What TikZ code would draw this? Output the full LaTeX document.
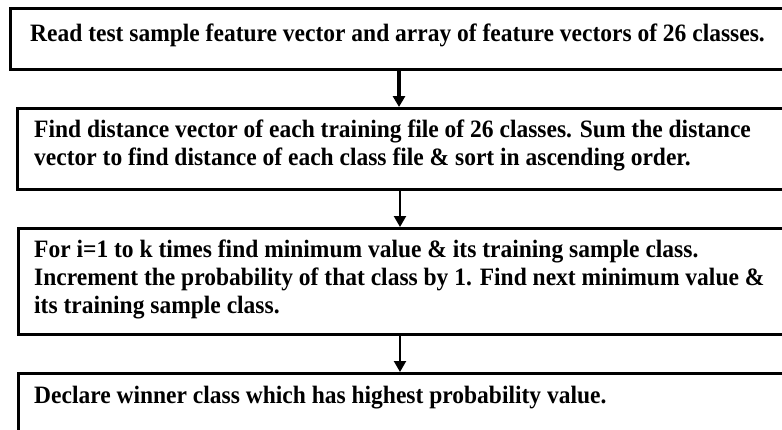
\documentclass[tikz,border=0pt]{standalone}
\usepackage{fontspec}
\setmainfont{Liberation Serif}
\newfontfamily\boxfont{Liberation Serif}[FakeStretch=0.94]
\usetikzlibrary{arrows.meta}
\begin{document}
\begin{tikzpicture}[x=1pt,y=-1pt,
  box/.style={draw=black, line width=2.6pt, rectangle, inner sep=0pt, anchor=north west, minimum width=800pt},
  txt/.style={anchor=base west, inner sep=0pt, align=left, font=\boxfont\bfseries\fontsize{25}{28}\selectfont},
  flow/.style={-{Triangle[width=12pt,length=11pt]}, line width=2.2pt}
]
\useasboundingbox (0,0) rectangle (782,429);
\clip (0,0) rectangle (782,429);
\node[box, minimum height=61pt] (b1) at (9,7) {};
\node[box, minimum height=81pt] (b2) at (16,107) {};
\node[box, minimum height=106pt] (b3) at (17,227) {};
\node[box, minimum height=90pt] (b4) at (17,372) {};
\node[txt] (t1) at (30,41) {Read test sample feature vector and array of feature vectors of 26 classes.};
\node[txt] (t2) at (34,165) {Find distance vector of each training file of 26 classes. Sum the distance\\vector to find distance of each class file \& sort in ascending order.};
\node[txt] (t3) at (34,313) {For i=1 to k times find minimum value \& its training sample class.\\Increment the probability of that class by 1. Find next minimum value \&\\its training sample class.};
\node[txt] (t4) at (34,403) {Declare winner class which has highest probability value.};
\coordinate (a1) at (399,0);
\coordinate (a2) at (400,0);
\coordinate (a3) at (400,0);
\draw[flow, line width=3.2pt] (a1 |- b1.south) -- (a1 |- b2.north);
\draw[flow] (a2 |- b2.south) -- (a2 |- b3.north);
\draw[flow] (a3 |- b3.south) -- (a3 |- b4.north);
\end{tikzpicture}
\end{document}
